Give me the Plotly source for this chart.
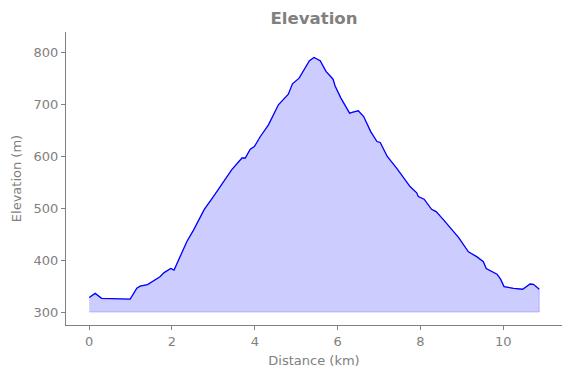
import plotly.graph_objects as go

distance_km = [0.0, 0.145, 0.3, 0.6, 0.99, 1.15, 1.23, 1.41, 1.55, 1.71, 1.81, 1.97, 2.05, 2.2, 2.36,
               2.52, 2.78, 3.0, 3.24, 3.44, 3.69, 3.77, 3.89, 3.99, 4.13, 4.33, 4.57, 4.81, 4.91,
               5.07, 5.32, 5.43, 5.58, 5.72, 5.89, 5.94, 6.08, 6.29, 6.37, 6.5, 6.63, 6.8, 6.95,
               7.03, 7.2, 7.43, 7.75, 7.91, 7.95, 8.09, 8.27, 8.38, 8.56, 8.92, 9.16, 9.36, 9.52,
               9.59, 9.85, 9.94, 10.02, 10.25, 10.47, 10.65, 10.73, 10.83, 10.87]
elevation_m = [328, 336, 326.5, 325.5, 325, 345.8, 350, 353, 360, 368, 376, 384, 381, 407, 436,
               458, 498, 522.6, 551.5, 574, 597, 597, 614, 619, 638, 661, 699.6, 720, 740,
               751, 784.5, 791, 784.5, 764, 749, 736, 712.5, 683.6, 685.5, 688, 677, 648, 628.8,
               627, 600, 577, 542, 530, 522.6, 517.6, 498, 493.6, 477.6, 444, 416, 406.8, 397,
               384, 373, 363, 349, 345.7, 344, 354, 353.5, 345.7, 344]
baseline_m = 300

grey = "#808080"
fnt = "DejaVu Sans"

fig = go.Figure()
fig.add_trace(go.Scatter(
    x=distance_km + distance_km[::-1],
    y=elevation_m + [baseline_m] * len(distance_km),
    fill="toself", fillcolor="rgba(0,0,255,0.2)",
    line=dict(color="rgba(0,0,255,0.2)", width=1),
    mode="lines", hoverinfo="skip", showlegend=False))
fig.add_trace(go.Scatter(
    x=distance_km, y=elevation_m, mode="lines",
    line=dict(color="#0000ff", width=1.3), showlegend=False))

axis_common = dict(showgrid=False, zeroline=False, showline=True, linecolor=grey, linewidth=1,
                   ticks="outside", ticklen=4, tickcolor=grey, automargin=False,
                   tickfont=dict(family=fnt, size=13, color=grey),
                   title_font=dict(family=fnt, size=13, color=grey))

# page body has an 8px default margin, so the figure is sized to fit the window
fig.update_layout(
    width=563, height=370,
    margin=dict(l=58, r=9, t=24, b=53),
    paper_bgcolor="white", plot_bgcolor="white",
    title=dict(text="<b>Elevation</b>", x=0.5435, xanchor="center", y=0.973, yanchor="middle",
               font=dict(family=fnt, size=16.6, color=grey)),
    xaxis=dict(range=[-0.56, 11.42], tickvals=[0, 2, 4, 6, 8, 10], title_text="Distance (km)",
               title_standoff=8, **axis_common),
    yaxis=dict(range=[275, 840], tickvals=[300, 400, 500, 600, 700, 800], title_text="Elevation (m)",
               title_standoff=9, **axis_common),
)
fig.write_html("out.html")
